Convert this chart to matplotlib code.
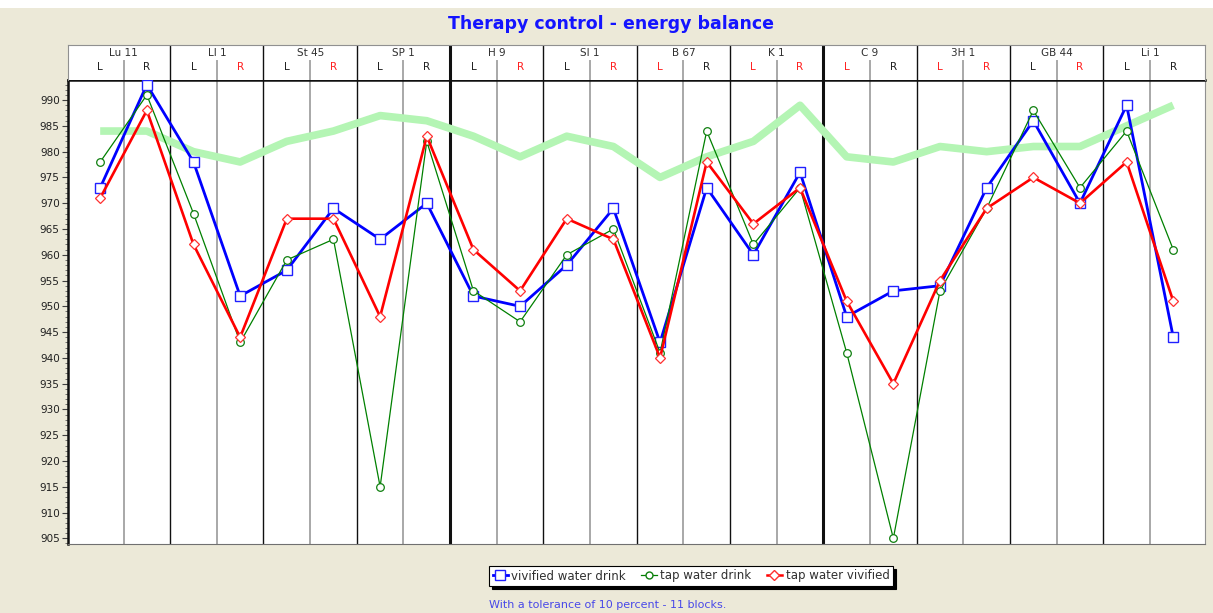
import matplotlib
matplotlib.use("Agg")
import matplotlib.pyplot as plt
from matplotlib.patches import Rectangle
from matplotlib.lines import Line2D
import numpy as np

# meridian groups, each has a left and right reading
groups = ["Lu 11", "LI 1", "St 45", "SP 1", "H 9", "SI 1",
          "B 67", "K 1", "C 9", "3H 1", "GB 44", "Li 1"]
sides = ["L", "R"] * 12
# which L/R labels are shown in red
side_red = [0, 0, 0, 1, 0, 1, 0, 0, 0, 1, 0, 1,
            1, 0, 1, 1, 1, 0, 1, 1, 0, 1, 0, 0]

vivified_drink = [973, 993, 978, 952, 957, 969, 963, 970, 952, 950, 958, 969,
                  943, 973, 960, 976, 948, 953, 954, 973, 986, 970, 989, 944]
tap_drink = [978, 991, 968, 943, 959, 963, 915, 982, 953, 947, 960, 965,
             941, 984, 962, 973, 941, 905, 953, 969, 988, 973, 984, 961]
tap_vivified = [971, 988, 962, 944, 967, 967, 948, 983, 961, 953, 967, 963,
                940, 978, 966, 973, 951, 935, 955, 969, 975, 970, 978, 951]
reference = [984, 984, 980, 978, 982, 984, 987, 986, 983, 979, 983, 981,
             975, 979, 982, 989, 979, 978, 981, 980, 981, 981, 985, 989]

W, H = 1213, 613
bg = "#ECE9D8"
fig = plt.figure(figsize=(W / 100, H / 100), dpi=100, facecolor=bg)
fig.patches.append(Rectangle((0, 1 - 8 / H), 1, 8 / H, transform=fig.transFigure,
                             facecolor="white", edgecolor="none", zorder=0))

def box(x0, y0, x1, y1):
    # pixel box -> figure fraction rect
    return [x0 / W, 1 - y1 / H, (x1 - x0) / W, (y1 - y0) / H]

xlo, xhi = -0.69, 23.68
n = len(sides)
x = np.arange(n)

ax = fig.add_axes(box(68, 80, 1205, 544))
hd = fig.add_axes(box(68, 45, 1205, 80))

# vertical grid
for i in range(n - 1):
    xv = i + 0.5
    if i % 2 == 0:
        ax.axvline(xv, color="#A8A8A8", lw=1.4, zorder=1)
        hd.plot([xv, xv], [0, 0.55], color="#A8A8A8", lw=1.4)
    else:
        lw = 2.2 if i in (7, 15) else 1.0
        ax.axvline(xv, color="#101010", lw=lw, zorder=1)
        hd.plot([xv, xv], [0, 1], color="#101010", lw=lw)

ax.plot(x, reference, color="#B4F5B4", lw=5.5, solid_capstyle="butt", zorder=2)
ax.plot(x, vivified_drink, color="#0000FF", lw=2.0, marker="s", ms=7.5,
        mfc="white", mec="#2020FF", mew=1.0, zorder=3)
ax.plot(x, tap_drink, color="#008000", lw=0.9, marker="o", ms=5.5,
        mfc="white", mec="#108010", mew=0.9, zorder=4)
ax.plot(x, tap_vivified, color="#FF0000", lw=1.9, marker="D", ms=5.5,
        mfc="white", mec="#FF3030", mew=0.9, zorder=5)

ax.set_xlim(xlo, xhi)
ax.set_ylim(903.9, 993.9)
ax.set_xticks([])
ax.set_yticks(np.arange(905, 991, 5))
ax.set_yticks(np.arange(904, 994, 1), minor=True)
ax.tick_params(axis="y", which="major", length=4, width=0.8, labelsize=7.5,
               colors="#404040", labelcolor="#202020", pad=2)
ax.tick_params(axis="y", which="minor", length=2, width=0.6, colors="#606060")
ax.set_facecolor("white")
for s in ["left", "top"]:
    ax.spines[s].set_linewidth(1.8)
    ax.spines[s].set_color("#101010")
ax.spines["bottom"].set_color("#707070")
ax.spines["right"].set_color("#909090")

# header with group and side labels
hd.set_xlim(xlo, xhi)
hd.set_ylim(0, 1)
hd.set_xticks([])
hd.set_yticks([])
hd.set_facecolor("white")
for s in hd.spines.values():
    s.set_color("#909090")
hd.spines["bottom"].set_visible(False)
for g, name in enumerate(groups):
    hd.text(2 * g + 0.5, 0.78, name, ha="center", va="center", fontsize=7.5,
            color="#303030")
for i, sd in enumerate(sides):
    hd.text(i, 0.38, sd, ha="center", va="center", fontsize=7.5,
            color="#FF2020" if side_red[i] else "#202020")

fig.text(611 / W, 1 - 24 / H, "Therapy control - energy balance", ha="center",
         va="center", fontsize=12.5, fontweight="bold", color="#1414FF")

handles = [
    Line2D([], [], color="#0000FF", lw=2.0, marker="s", ms=6.5, mfc="white", mec="#2020FF"),
    Line2D([], [], color="#008000", lw=0.9, marker="o", ms=5, mfc="white", mec="#108010"),
    Line2D([], [], color="#FF0000", lw=1.8, marker="D", ms=5, mfc="white", mec="#FF3030"),
]
leg = fig.legend(handles, ["vivified water drink", "tap water drink", "tap water vivified"],
                 loc="center", bbox_to_anchor=(691 / W, 1 - 576 / H), ncol=3,
                 fontsize=8.5, frameon=True, fancybox=False, edgecolor="black",
                 shadow={"color": "black", "alpha": 1}, handlelength=1.3,
                 handletextpad=0.3, columnspacing=1.3, borderpad=0.3,
                 borderaxespad=0)
leg.get_frame().set_linewidth(0.8)
for t in leg.get_texts():
    t.set_color("#303030")

fig.text(489 / W, 1 - 605 / H, "With a tolerance of 10 percent - 11 blocks.",
         ha="left", va="center", fontsize=8, color="#4848E8")

fig.savefig("out.png", dpi=100, facecolor=bg)
